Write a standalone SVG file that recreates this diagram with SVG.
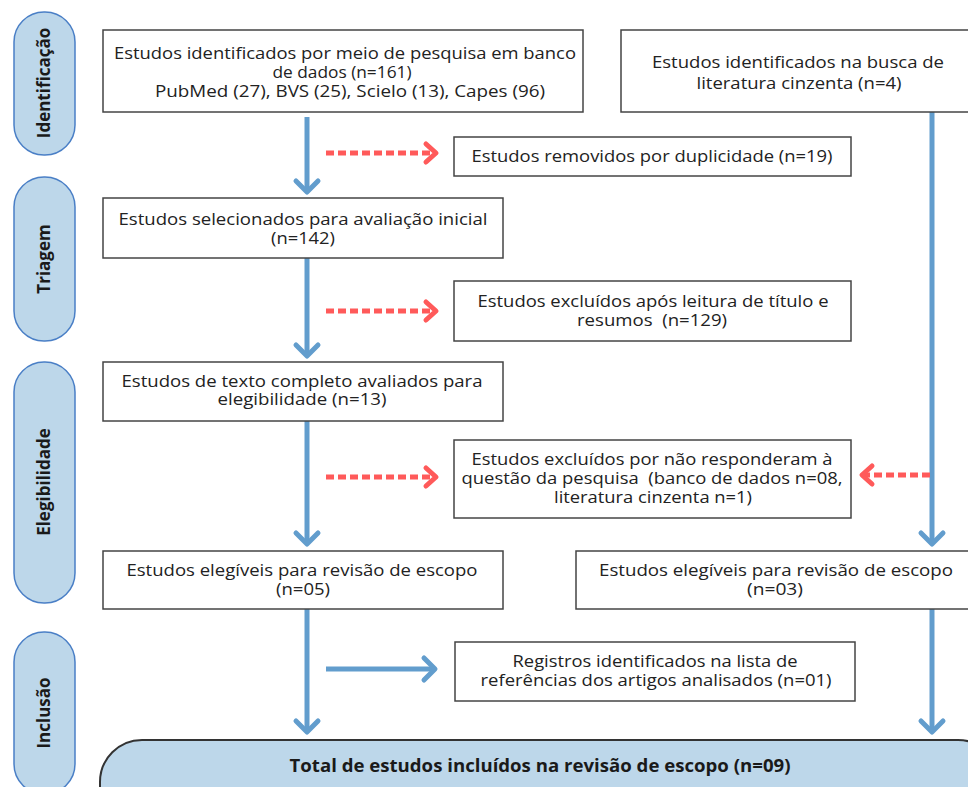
<svg xmlns="http://www.w3.org/2000/svg" width="968" height="787" viewBox="0 0 968 787">
<style>
.box{fill:#fff;stroke:#444;stroke-width:1.5}
.pill{fill:#bdd7ea;stroke:#4a7fc6;stroke-width:1.5}
.t{font-family:"Open Sans","DejaVu Sans",sans-serif;font-size:16px;fill:#222;text-anchor:middle}
.c{font-family:"Open Sans","DejaVu Sans",sans-serif;font-size:16px;fill:#222;text-anchor:middle}
.ph{font-family:"Open Sans","DejaVu Sans",sans-serif;font-size:17px;font-weight:bold;fill:#1a1a1a;text-anchor:middle}
.tot{font-family:"Open Sans","DejaVu Sans",sans-serif;font-size:17px;font-weight:bold;fill:#1a1a1a;text-anchor:middle}
.blue{stroke:#629dcd;stroke-width:5;fill:none}
.red{stroke:#ff5a5a;stroke-width:5;fill:none;stroke-dasharray:8 4}
</style>
<defs>
<marker id="hb" markerUnits="userSpaceOnUse" markerWidth="30" markerHeight="30" refX="0" refY="0" orient="auto" overflow="visible">
<path d="M-11,-11 L0,0 L-11,11" fill="none" stroke="#629dcd" stroke-width="5" stroke-linecap="round" stroke-linejoin="round"/>
</marker>
<marker id="hr" markerUnits="userSpaceOnUse" markerWidth="30" markerHeight="30" refX="0" refY="0" orient="auto" overflow="visible">
<path d="M-10,-9 L0,0 L-10,9" fill="none" stroke="#ff5a5a" stroke-width="5" stroke-linecap="round" stroke-linejoin="round"/>
</marker>
</defs>

<g id="phase-identificacao">
<rect class="pill" x="14" y="12" width="61" height="143" rx="30"/>
<text class="ph" transform="translate(50,83) rotate(-90)">Identificação</text>
</g>
<g id="phase-triagem">
<rect class="pill" x="14" y="177" width="61" height="164" rx="30"/>
<text class="ph" transform="translate(50,259) rotate(-90)">Triagem</text>
</g>
<g id="phase-elegibilidade">
<rect class="pill" x="14" y="362" width="61" height="241" rx="30"/>
<text class="ph" transform="translate(50,482) rotate(-90)">Elegibilidade</text>
</g>
<g id="phase-inclusao">
<rect class="pill" x="14" y="632" width="61" height="162" rx="30"/>
<text class="ph" transform="translate(50,713) rotate(-90)">Inclusão</text>
</g>

<g id="connectors">
<line class="blue" x1="307" y1="117" x2="307" y2="192" marker-end="url(#hb)"/>
<line class="blue" x1="307" y1="258" x2="307" y2="356" marker-end="url(#hb)"/>
<line class="blue" x1="307" y1="421" x2="307" y2="544" marker-end="url(#hb)"/>
<line class="blue" x1="307" y1="609" x2="307" y2="732" marker-end="url(#hb)"/>
<line class="blue" x1="932" y1="112" x2="932" y2="544" marker-end="url(#hb)"/>
<line class="blue" x1="932" y1="609" x2="932" y2="732" marker-end="url(#hb)"/>
<line class="blue" x1="326" y1="669" x2="435" y2="669" marker-end="url(#hb)"/>
<line class="red" x1="326" y1="153" x2="436" y2="153" marker-end="url(#hr)"/>
<line class="red" x1="326" y1="311" x2="436" y2="311" marker-end="url(#hr)"/>
<line class="red" x1="326" y1="477" x2="436" y2="477" marker-end="url(#hr)"/>
<line class="red" x1="930" y1="475" x2="862" y2="475" marker-end="url(#hr)"/>
</g>

<g id="box-banco-dados">
<rect class="box" x="103" y="30" width="480" height="82"/>
<text class="c" x="345" y="59" textLength="462" lengthAdjust="spacingAndGlyphs">Estudos identificados por meio de pesquisa em banco</text>
<text class="c" x="342" y="78" textLength="139" lengthAdjust="spacingAndGlyphs">de dados (n=161)</text>
<text class="c" x="350" y="97" textLength="390" lengthAdjust="spacingAndGlyphs">PubMed (27), BVS (25), Scielo (13), Capes (96)</text>
</g>
<g id="box-literatura-cinzenta">
<rect class="box" x="621" y="30" width="360" height="82"/>
<text class="c" x="798" y="68" textLength="292" lengthAdjust="spacingAndGlyphs">Estudos identificados na busca de</text>
<text class="c" x="799" y="89" textLength="205" lengthAdjust="spacingAndGlyphs">literatura cinzenta (n=4)</text>
</g>
<g id="box-duplicidade">
<rect class="box" x="454" y="137" width="397" height="39"/>
<text class="t" x="652" y="162" textLength="361" lengthAdjust="spacingAndGlyphs">Estudos removidos por duplicidade (n=19)</text>
</g>
<g id="box-selecionados">
<rect class="box" x="103" y="198" width="400" height="60"/>
<text class="t" x="303" y="225" textLength="369" lengthAdjust="spacingAndGlyphs">Estudos selecionados para avaliação inicial</text>
<text class="t" x="303" y="244" textLength="64" lengthAdjust="spacingAndGlyphs">(n=142)</text>
</g>
<g id="box-excluidos-titulo">
<rect class="box" x="454" y="281" width="397" height="60"/>
<text class="t" x="653" y="307" textLength="351" lengthAdjust="spacingAndGlyphs">Estudos excluídos após leitura de título e</text>
<text class="t" x="652" y="326" textLength="150" lengthAdjust="spacingAndGlyphs" xml:space="preserve">resumos  (n=129)</text>
</g>
<g id="box-texto-completo">
<rect class="box" x="103" y="362" width="400" height="59"/>
<text class="t" x="302" y="387" textLength="361" lengthAdjust="spacingAndGlyphs">Estudos de texto completo avaliados para</text>
<text class="t" x="302" y="405" textLength="169" lengthAdjust="spacingAndGlyphs">elegibilidade (n=13)</text>
</g>
<g id="box-excluidos-questao">
<rect class="box" x="454" y="440" width="397" height="78"/>
<text class="t" x="652" y="465" textLength="361" lengthAdjust="spacingAndGlyphs">Estudos excluídos por não responderam à</text>
<text class="t" x="652" y="484" textLength="381" lengthAdjust="spacingAndGlyphs" xml:space="preserve">questão da pesquisa  (banco de dados n=08,</text>
<text class="t" x="653" y="503" textLength="198" lengthAdjust="spacingAndGlyphs">literatura cinzenta n=1)</text>
</g>
<g id="box-elegiveis-05">
<rect class="box" x="103" y="551" width="400" height="58"/>
<text class="t" x="302" y="576" textLength="351" lengthAdjust="spacingAndGlyphs">Estudos elegíveis para revisão de escopo</text>
<text class="t" x="303" y="595" textLength="54" lengthAdjust="spacingAndGlyphs">(n=05)</text>
</g>
<g id="box-elegiveis-03">
<rect class="box" x="576" y="551" width="400" height="58"/>
<text class="t" x="776" y="576" textLength="354" lengthAdjust="spacingAndGlyphs">Estudos elegíveis para revisão de escopo</text>
<text class="t" x="775" y="595" textLength="56" lengthAdjust="spacingAndGlyphs">(n=03)</text>
</g>
<g id="box-registros">
<rect class="box" x="455" y="642" width="400" height="59"/>
<text class="c" x="655" y="667" textLength="285" lengthAdjust="spacingAndGlyphs">Registros identificados na lista de</text>
<text class="c" x="656" y="686" textLength="351" lengthAdjust="spacingAndGlyphs">referências dos artigos analisados (n=01)</text>
</g>
<g id="box-total">
<rect x="100" y="740" width="900" height="90" rx="42" fill="#bdd7ea" stroke="#333" stroke-width="2"/>
<text class="tot" x="540" y="772" textLength="501" lengthAdjust="spacingAndGlyphs">Total de estudos incluídos na revisão de escopo (n=09)</text>
</g>
</svg>
